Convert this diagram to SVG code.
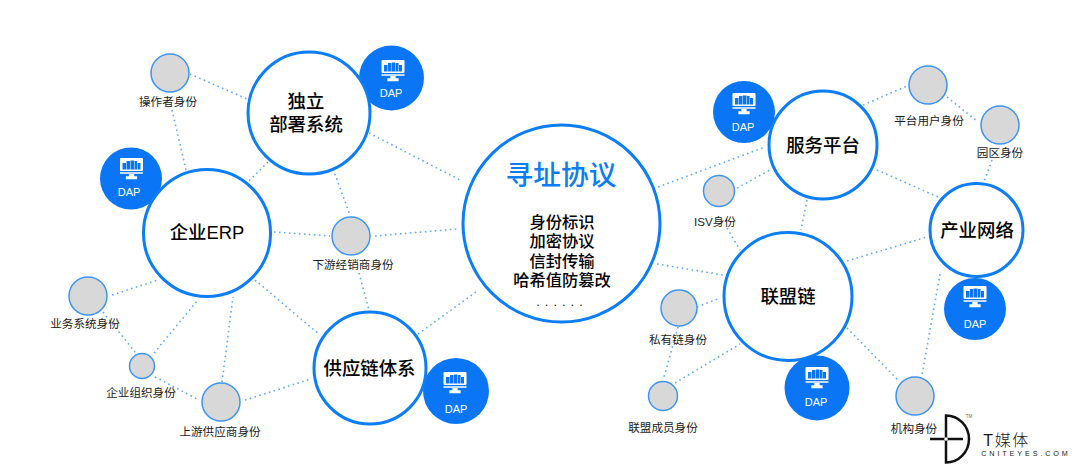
<svg xmlns="http://www.w3.org/2000/svg" width="1080" height="473" viewBox="0 0 1080 473">
<style>
text{font-family:"Liberation Sans","Noto Sans CJK SC",sans-serif;text-anchor:middle;fill:#1a1a1a}
.big{fill:#fff;stroke:#0b7df5;stroke-width:3}
.gray{fill:#d8d8d8;stroke:#3c95f2;stroke-width:1.5}
.dap{fill:#0a76f6}
.t{font-size:18.4px;font-weight:500;fill:#000}
.l{font-size:11.6px}
.d{fill:#fff;font-size:11px}
#conn line{stroke:#5fabf5;stroke-width:1.6;stroke-dasharray:1.6 3.4;fill:none}
</style>
<defs>
<g id="ic"><rect x="-11.500" y="-13" width="23" height="13" rx="1" fill="#fff"/><rect x="-9" y="-8" width="3.500" height="6.500" fill="#0a76f6"/><rect x="-5" y="-10" width="3.500" height="8.500" fill="#0a76f6"/><rect x="-1" y="-10.500" width="3.500" height="9" fill="#0a76f6"/><rect x="3" y="-10" width="2.500" height="8.500" fill="#0a76f6"/><rect x="6" y="-8" width="3" height="6.500" fill="#0a76f6"/><path d="M-11.500 2H11.500M-2 3V6H-5V7.500H5V6H2V3" stroke="#fff" stroke-width="1.300" fill="#fff"/></g>
</defs>
<g id="conn">
<line x1="190" y1="74" x2="247" y2="99"/>
<line x1="172" y1="110" x2="186" y2="170"/>
<line x1="268" y1="162" x2="248" y2="182"/>
<line x1="333" y1="169" x2="350" y2="215"/>
<line x1="369" y1="133" x2="462" y2="181"/>
<line x1="274" y1="232" x2="330" y2="236"/>
<line x1="375" y1="236" x2="457" y2="229"/>
<line x1="359" y1="273" x2="369" y2="310"/>
<line x1="255" y1="280" x2="320" y2="335"/>
<line x1="418" y1="334" x2="476" y2="292"/>
<line x1="112" y1="295" x2="158" y2="280"/>
<line x1="154" y1="353" x2="198" y2="300"/>
<line x1="103" y1="312" x2="135" y2="352"/>
<line x1="155" y1="377" x2="199" y2="400"/>
<line x1="222" y1="382" x2="233" y2="297"/>
<line x1="245" y1="400" x2="311" y2="379"/>
<line x1="658" y1="187" x2="765" y2="147"/>
<line x1="657" y1="264" x2="723" y2="275"/>
<line x1="737" y1="188" x2="772" y2="169"/>
<line x1="727" y1="228" x2="740" y2="250"/>
<line x1="807" y1="200" x2="801" y2="230"/>
<line x1="863" y1="105" x2="907" y2="86"/>
<line x1="947" y1="97" x2="978" y2="122"/>
<line x1="877" y1="170" x2="938" y2="197"/>
<line x1="992" y1="160" x2="984" y2="182"/>
<line x1="847" y1="261" x2="927" y2="237"/>
<line x1="940" y1="274" x2="922" y2="375"/>
<line x1="847" y1="328" x2="898" y2="380"/>
<line x1="697" y1="307" x2="720" y2="298"/>
<line x1="678" y1="327" x2="664" y2="377"/>
<line x1="675" y1="383" x2="740" y2="344"/>
</g>
<g id="n-dap1"><circle class="dap" cx="391.500" cy="78" r="32.500"/><use href="#ic" x="393" y="73"/><text class="d" x="391" y="97">DAP</text></g>
<g id="n-dap2"><circle class="dap" cx="131" cy="178.500" r="31"/><use href="#ic" x="131.500" y="171"/><text class="d" x="129" y="196">DAP</text></g>
<g id="n-dap3"><circle class="dap" cx="456" cy="391" r="33"/><use href="#ic" x="455" y="385"/><text class="d" x="456" y="413">DAP</text></g>
<g id="n-dap4"><circle class="dap" cx="744" cy="112" r="31"/><use href="#ic" x="744" y="106"/><text class="d" x="743" y="131">DAP</text></g>
<g id="n-dap5"><circle class="dap" cx="975" cy="309" r="31"/><use href="#ic" x="975" y="299"/><text class="d" x="975" y="328">DAP</text></g>
<g id="n-dap6"><circle class="dap" cx="817" cy="388" r="32.500"/><use href="#ic" x="817" y="380"/><text class="d" x="816" y="406">DAP</text></g>
<g id="n-main"><circle class="big" cx="561.500" cy="223.500" r="98.500"/>
<text x="561" y="185" font-size="27.700" font-weight="500" style="fill:#0b7df5">寻址协议</text>
<text font-size="16.300" font-weight="500" style="fill:#000"><tspan x="562" y="228">身份标识</tspan><tspan x="562" y="247.300">加密协议</tspan><tspan x="562" y="266.600">信封传输</tspan><tspan x="562" y="286">哈希值防篡改</tspan></text>
<text x="562" y="306" font-size="13" letter-spacing="5">......</text></g>
<g id="n-indep"><circle class="big" cx="309" cy="113" r="61"/><text class="t" x="306" y="108">独立</text><text class="t" x="306" y="131">部署系统</text></g>
<g id="n-erp"><circle class="big" cx="207" cy="233" r="63.500"/><text class="t" x="207" y="239">企业ERP</text></g>
<g id="n-supply"><circle class="big" cx="370" cy="368" r="56"/><text class="t" x="369.500" y="374.500">供应链体系</text></g>
<g id="n-service"><circle class="big" cx="823" cy="145" r="54"/><text class="t" x="823" y="151.500">服务平台</text></g>
<g id="n-net"><circle class="big" cx="976.500" cy="230" r="46.500"/><text class="t" x="977" y="236.500">产业网络</text></g>
<g id="n-chain"><circle class="big" cx="788" cy="296.500" r="64"/><text class="t" x="788" y="302.500">联盟链</text></g>
<g id="n-op"><circle class="gray" cx="170" cy="73" r="19"/><text class="l" x="168" y="106">操作者身份</text></g>
<g id="n-down"><circle class="gray" cx="351" cy="236" r="19"/><text class="l" x="353" y="269">下游经销商身份</text></g>
<g id="n-biz"><circle class="gray" cx="88" cy="296" r="19"/><text class="l" x="85" y="327.500">业务系统身份</text></g>
<g id="n-org"><circle class="gray" cx="142" cy="366" r="12.500"/><text class="l" x="141" y="397">企业组织身份</text></g>
<g id="n-up"><circle class="gray" cx="221" cy="402" r="19"/><text class="l" x="220" y="436">上游供应商身份</text></g>
<g id="n-user"><circle class="gray" cx="928" cy="85" r="19"/><text class="l" x="929" y="125">平台用户身份</text></g>
<g id="n-park"><circle class="gray" cx="1000" cy="125" r="19"/><text class="l" x="1000" y="157">园区身份</text></g>
<g id="n-isv"><circle class="gray" cx="719" cy="191" r="15.500"/><text class="l" x="715" y="226">ISV身份</text></g>
<g id="n-priv"><circle class="gray" cx="679" cy="308" r="18"/><text class="l" x="678" y="343.500">私有链身份</text></g>
<g id="n-mem"><circle class="gray" cx="663" cy="396" r="14.500"/><text class="l" x="663" y="431.500">联盟成员身份</text></g>
<g id="n-org2"><circle class="gray" cx="915" cy="396" r="19"/><text class="l" x="914" y="432.500">机构身份</text></g>
<g id="logo"><path d="M946 415.500A23 23.500 0 0 1 946 462.500Z" fill="none" stroke="#111" stroke-width="2.500"/><path d="M930 439H963" stroke="#111" stroke-width="2.500"/><circle cx="946" cy="439" r="1.800" fill="#fff"/>
<text x="969" y="418" font-size="4.500" style="fill:#666">TM</text>
<text x="1006.500" y="445.500" font-size="16" letter-spacing="1.500" font-weight="300">T媒体</text>
<text x="1026" y="456" font-size="7.200" letter-spacing="2.900">CNITEYES.COM</text></g>
</svg>
